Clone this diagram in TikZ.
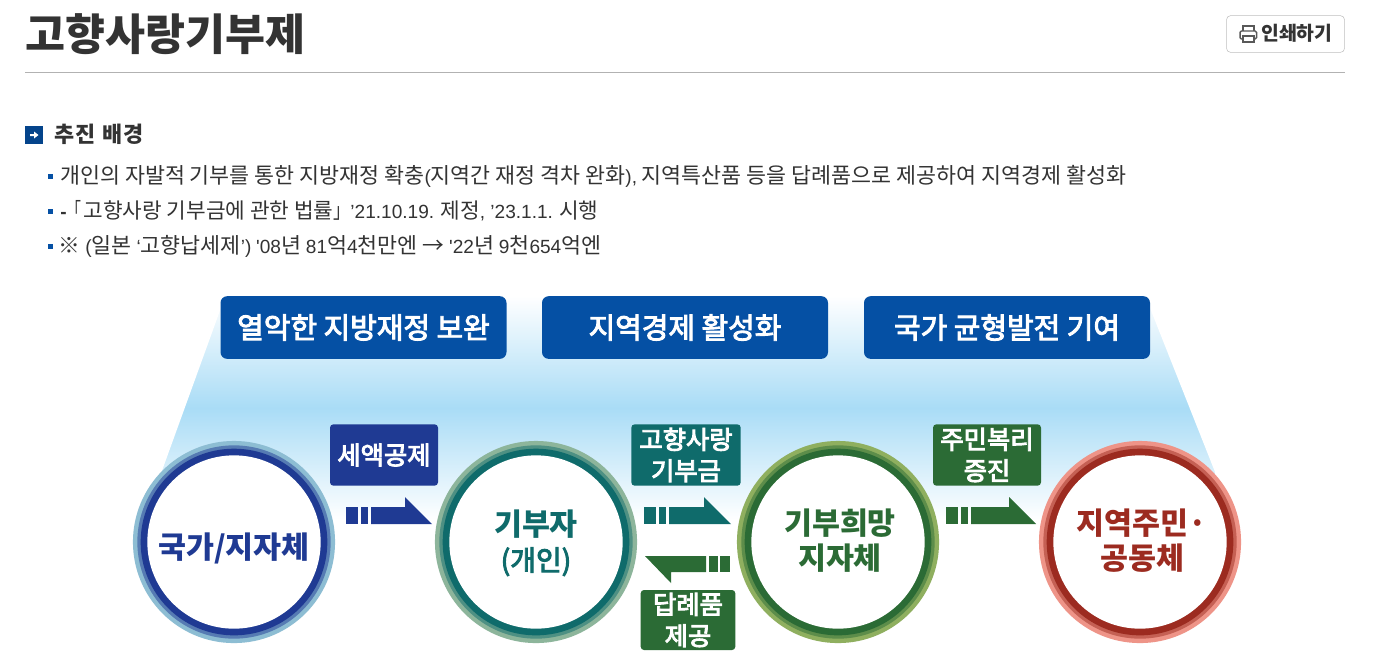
\documentclass[tikz,border=0pt]{standalone}
\usepackage{fontspec}
\setmainfont{Noto Sans CJK KR}
\newfontfamily\latf{Liberation Sans}
\usetikzlibrary{calc}
\definecolor{txt}{HTML}{333333}
\definecolor{navy}{HTML}{0550A4}
\definecolor{cBlue}{HTML}{1F3A93}
\definecolor{cBlueP}{HTML}{8DBDD3}
\definecolor{cTeal}{HTML}{0F6B6B}
\definecolor{cTealP}{HTML}{8DB59B}
\definecolor{cGreen}{HTML}{2B6B35}
\definecolor{cGreenP}{HTML}{8FAF5F}
\definecolor{cRed}{HTML}{9C2B20}
\definecolor{cRedP}{HTML}{EE9488}
\definecolor{sky}{HTML}{A9DCF6}
\newcommand{\lat}[1]{{\latf\fontsize{14.3}{18}\selectfont #1}}
\newcommand{\md}[1]{\special{pdf:code 2 Tr 0.7 w}#1\special{pdf:code 0 Tr 1 w}}
\tikzset{
 x=0.75pt,y=-0.75pt,
 topbox/.style={fill=navy,rounded corners=5pt,minimum width=214.5pt,minimum height=47pt,text=white,font=\fontsize{21.7}{26}\selectfont,inner sep=0pt},
 lbl/.style={rounded corners=2.5pt,text=white,font=\fontsize{19}{23.5}\selectfont,align=center,inner sep=0pt,minimum height=46pt},
 circ/.style={circle,fill=white,minimum size=130pt,inner sep=0pt},
 ctext/.style={inner sep=0pt,align=center,font=\fontsize{22.8}{26}\selectfont\bfseries},
 line/.style={anchor=west,inner sep=0pt,text=txt,font=\fontsize{16.3}{20}\selectfont},
 bul/.style={fill=navy,minimum size=3.6pt,inner sep=0pt},
}
\newcommand{\arrowR}[4]{% x, y top of bar, colour, extra length
 \fill[#3] (#1,#2) rectangle ++(12,17);
 \fill[#3] (#1+15,#2) rectangle ++(7,17);
 \fill[#3] (#1+25,#2) -- ++(34+#4,0) -- ++(0,-10) -- ++(27,27) -- (#1+25,#2+17) -- cycle;
}
\newcommand{\arrowL}[3]{% x right end, y top of bar, colour
 \fill[#3] (#1,#2) rectangle ++(-10,16);
 \fill[#3] (#1-12,#2) rectangle ++(-9,16);
 \fill[#3] (#1-24,#2) -- (#1-85,#2) -- (#1-59,#2+27) -- (#1-59,#2+16) -- (#1-24,#2+16) -- cycle;
}
\begin{document}
\begin{tikzpicture}
\useasboundingbox (0,0) rectangle (1376,669);
\fill[white] (0,0) rectangle (1376,669);
% header
\node[anchor=west,inner sep=0pt,text=txt,font=\fontsize{32.6}{36}\selectfont\bfseries] (title) at (25,34) {고향사랑기부제};
\draw[black!30,line width=0.75pt] (25,72.5) -- (1345,72.5);
\node[draw=black!25,rounded corners=3pt,minimum width=88.5pt,minimum height=27.5pt,inner sep=0pt] (print) at (1285.5,34) {};
\node[anchor=west,inner sep=0pt,text=txt,font=\fontsize{14.5}{16}\selectfont\bfseries] (printt) at (1261,33) {인쇄하기};
\begin{scope}[draw=black!65,line width=1.1pt]
\draw (1243,31) -- (1243,26) -- (1254,26) -- (1254,31);
\draw[rounded corners=1pt] (1243,39) -- (1240,39) -- (1240,31) -- (1256.5,31) -- (1256.5,39) -- (1254,39);
\draw (1243,36) rectangle (1254,42);
\end{scope}
% section head
\node[fill=navy!85!black,minimum size=13.5pt,inner sep=0pt] (sq) at (34,135) {};
\fill[white] (30,134) rectangle (34,136) (34,131.5) -- (38.5,135) -- (34,138.5) -- cycle;
\node[anchor=west,inner sep=0pt,text=txt,font=\fontsize{16.4}{20}\selectfont\bfseries\addfontfeature{LetterSpace=6}] (sec) at (54,134) {추진 배경};
\node[bul] (b1) at (50.5,176.5) {};
\node[bul] (b2) at (50.5,211.5) {};
\node[bul] (b3) at (50.5,246.5) {};
\node[line] (l1) at (60,176) {개인의 자발적 기부를 통한 지방재정 확충\lat{(}지역간 재정 격차 완화\lat{),} 지역특산품 등을 답례품으로 제공하여 지역경제 활성화};
\node[line,font=\fontsize{16}{20}\selectfont] (l2) at (60,211) {\lat{\textbf{-}}\scalebox{.7}[1]{「}\kern1.5pt 고향사랑 기부금에 관한 법률\scalebox{.8}[1]{」}\lat{’21.10.19.} 제정\lat{, ’23.1.1.} 시행};
\node[line] (l3) at (58.5,246) {※ \lat{(}일본 \lat{‘}고향납세제\lat{’)} \lat{'08}년 \lat{81}억\lat{4}천만엔 → \lat{'22}년 \lat{9}천\lat{654}억엔};
% backdrop
\fill[top color=white,bottom color=sky] (150,296) rectangle (1225,408);
\fill[top color=sky,bottom color=white] (150,408) rectangle (1225,520);
\fill[white] (140,290) -- (222,290) -- (222,305) -- (155,490) -- (155,530) -- (140,530) -- cycle;
\fill[white] (1235,290) -- (1150,290) -- (1150,308) -- (1215,472) -- (1215,530) -- (1235,530) -- cycle;
% top boxes
\node[topbox] (t1) at (363.5,327.5) {\md{열악한 지방재정 보완}};
\node[topbox] (t2) at (685,327.5) {\md{지역경제 활성화}};
\node[topbox] (t3) at (1007,327.5) {\md{국가 균형발전 기여}};
% circles
\foreach \n/\cx/\cp/\cd in {c1/234/cBlueP/cBlue,c2/536/cTealP/cTeal,c3/838/cGreenP/cGreen,c4/1140/cRedP/cRed}{
 \fill[\cp] (\cx,542) circle[radius=75.8pt];
 \fill[\cp!50!\cd] (\cx,542) circle[radius=72.5pt];
 \fill[\cd] (\cx,542) circle[radius=70pt];
 \node[circ] (\n) at (\cx,542) {};
}
\node[ctext,text=cBlue] (c1t) at (c1) [yshift=-4.5pt] {국가/지자체};
\node[ctext,text=cTeal] (c2t) at (c2) [yshift=-0.8pt] {기부자\\{\mdseries\fontsize{21}{26}\selectfont\md{(개인)}}};
\node[ctext,text=cGreen] (c3t) at (c3) [xshift=1.5pt,yshift=1pt] {기부희망\\지자체};
\node[ctext,text=cRed] (c4t) at (c4) [xshift=1.5pt,yshift=0.8pt] {지역주민·\\공동체};
% labels
\node[lbl,fill=cBlue,minimum width=81pt,minimum height=46pt] (a1) at (384,455) {\md{세액공제}};
\node[lbl,fill=cTeal,minimum width=82pt] (a2) at (686,455) {\md{고향사랑}\\\md{기부금}};
\node[lbl,fill=cGreen,minimum width=81pt] (a3) at (987,455) {\md{주민복리}\\\md{증진}};
\node[lbl,fill=cGreen,minimum width=71pt,minimum height=45pt] (a4) at (688,620) {\md{답례품}\\\md{제공}};
% arrows
\arrowR{346}{507}{cBlue}{0}
\arrowR{644}{507}{cTeal}{1}
\arrowR{946}{507}{cGreen}{4}
\arrowL{730}{556}{cGreen}
\end{tikzpicture}
\end{document}
